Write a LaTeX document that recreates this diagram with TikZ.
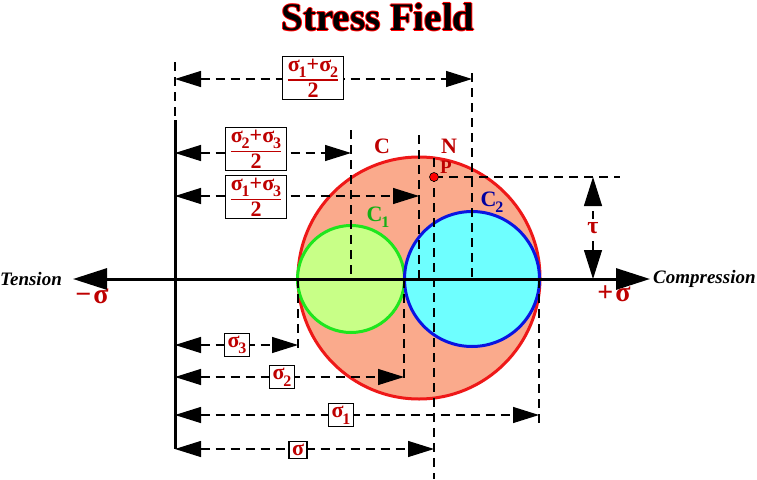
\documentclass[tikz,border=0pt]{standalone}
\usepackage{amsmath}
\usepackage{fontspec}
\setmainfont{Liberation Serif}
\usetikzlibrary{arrows.meta}
\definecolor{ringred}{RGB}{238,24,24}
\definecolor{ringgreen}{RGB}{30,230,30}
\definecolor{ringblue}{RGB}{10,20,225}
\definecolor{csalmon}{RGB}{250,170,140}
\definecolor{cgreen}{RGB}{200,255,135}
\definecolor{ccyan}{RGB}{110,255,255}
\definecolor{lblred}{RGB}{190,0,0}
\definecolor{lblgreen}{RGB}{20,175,20}
\definecolor{lblblue}{RGB}{0,0,160}
\newcommand{\sg}[1]{σ\kern-1pt\raisebox{-0.3em}{\fontsize{16}{16}\selectfont #1}}
\newcommand{\half}[1]{$\genfrac{}{}{1.6pt}{1}{\mbox{#1}}{\mbox{2}}$}
\begin{document}
\begin{tikzpicture}[x=1pt,y=-1pt]
  \tikzstyle{every node}+=[inner sep=0pt]
  \tikzstyle{guide}=[black,line width=1.2pt,dash pattern=on 9pt off 6pt]
  \tikzstyle{dimline}=[guide,{Triangle[length=26pt,width=16pt]}-{Triangle[length=26pt,width=16pt]}]
  \tikzstyle{axis}=[black,line width=3pt]
  \tikzstyle{lbl}=[text=lblred,font=\fontsize{22}{24}\selectfont\bfseries]
  \tikzstyle{lblbox}=[lbl,draw=black,fill=white,line width=1.3pt,inner xsep=3pt,inner ysep=2.5pt]
  \tikzstyle{fracbox}=[lblbox,inner xsep=4pt,inner ysep=2pt]
  \useasboundingbox (0,0) rectangle (757,479);
  % title
  \foreach \dx/\dy in {-1/0,1/0,0/-1,0/1}
    \node[text=red,font=\fontsize{39}{42}\selectfont\bfseries] at (378+\dx,17+\dy) {Stress Field};
  \node[font=\fontsize{39}{42}\selectfont\bfseries] (title) at (378,17) {Stress Field};
  % Mohr circles
  \coordinate (cC) at (419,278);
  \coordinate (cA) at (351,279);
  \coordinate (cB) at (472,279);
  \draw[ringred,line width=3pt,fill=csalmon] (cC) circle (121pt);
  \draw[ringgreen,line width=3pt,fill=cgreen] (cA) circle (53.5pt);
  \draw[ringblue,line width=3pt,fill=ccyan] (cB) circle (67.5pt);
  % guide lines
  \foreach \nm/\x/\ya/\yb in {s3/298/279/350, s2/404/279/383, s1/539/279/425,
      s/434/158/479, m23/351/130/279, m13/419/135/279, m12/472/73/279}
  {
    \coordinate (\nm a) at (\x,\ya);
    \coordinate (\nm b) at (\x,\yb);
    \draw[guide] (\nm a) -- (\nm b);
  }
  \coordinate (P) at (434,177);
  \coordinate (pr) at (620,177);
  \draw[guide] (P) -- (pr);
  % dimension lines
  \foreach \nm/\y/\x/\bx/\by/\st/\txt in {
      d12/79/472/313/78/fracbox/{\half{\sg1+\sg2}},
      d23/153/351/256/149/fracbox/{\half{\sg2+\sg3}},
      d13/196/419/256/197/fracbox/{\half{\sg1+\sg3}},
      d3/345/298/237/345/lblbox/{\sg3},
      d2/377/404/282/377/lblbox/{\sg2},
      d1/415/539/341/415/lblbox/{\sg1},
      d/449/434/298/450/lblbox/{σ}}
  {
    \coordinate (\nm l) at (175,\y);
    \coordinate (\nm r) at (\x,\y);
    \draw[dimline] (\nm l) -- (\nm r);
    \node[\st] (\nm box) at (\bx,\by) {\txt};
  }
  % axes
  \coordinate (vdash) at (175,62);
  \coordinate (vtop) at (175,120);
  \coordinate (vbot) at (175,449);
  \draw[guide] (vdash) -- (vtop);
  \draw[axis] (vtop) -- (vbot);
  \coordinate (tl) at (73,279);
  \coordinate (tr) at (650,279);
  \draw[axis,{Triangle[length=34pt,width=21pt]}-{Triangle[length=34pt,width=21pt]}] (tl) -- (tr);
  \coordinate (tb) at (593,279);
  \coordinate (tt) at (593,177);
  \draw[guide,{Triangle[length=29pt,width=18pt]}-{Triangle[length=29pt,width=18pt]}] (tb) -- node[lbl,fill=white,inner sep=3pt,font=\fontsize{24}{26}\selectfont\bfseries] (tau) {τ} (tt);
  % point and labels
  \node[circle,fill=red,draw=black,line width=0.6pt,minimum size=9pt] (Pdot) at (P) {};
  \node[lbl,font=\fontsize{19}{20}\selectfont\bfseries] (Plbl) at (446,167) {P};
  \node[lbl] (Clbl) at (382,146) {C};
  \node[lbl] (Nlbl) at (449,146) {N};
  \node[lbl,text=lblgreen] (C1lbl) at (378,217) {C\kern-1pt\raisebox{-0.25em}{\fontsize{16}{16}\selectfont 1}};
  \node[lbl,text=lblblue] (C2lbl) at (492,202) {C\kern-1pt\raisebox{-0.25em}{\fontsize{16}{16}\selectfont 2}};
  \node[font=\fontsize{19}{22}\selectfont\bfseries\itshape,anchor=west] (tens) at (0,279) {Tension};
  \node[font=\fontsize{19}{22}\selectfont\bfseries\itshape,anchor=west] (comp) at (653,279) {Compression};
  \node[lbl,font=\fontsize{28}{30}\selectfont\bfseries] (neg) at (92,296) {−\kern2pt σ};
  \node[lbl,font=\fontsize{28}{30}\selectfont\bfseries] (pos) at (614,294) {+\kern2pt σ};
\end{tikzpicture}
\end{document}
